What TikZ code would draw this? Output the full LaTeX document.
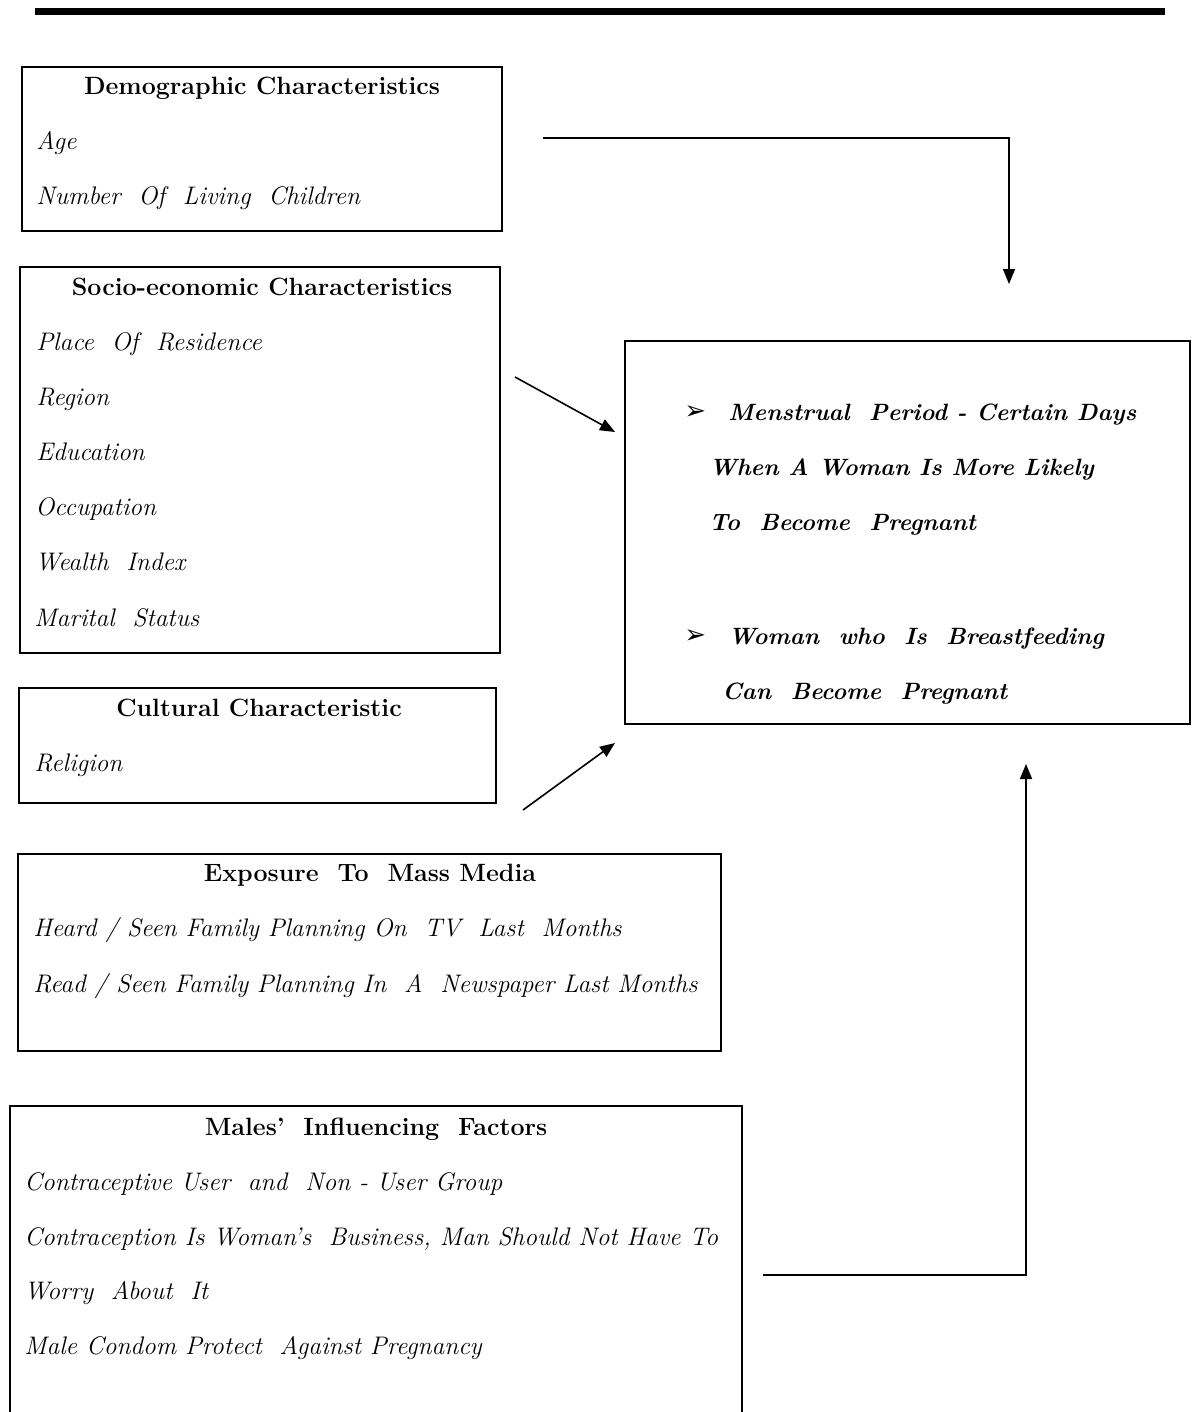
\documentclass[tikz,border=0pt]{standalone}
\usepackage{fontspec}
\usepackage{tikz}
\usetikzlibrary{arrows.meta,positioning,calc}
\newfontfamily\dingfont{DejaVu Sans}
\newcommand{\bulletmark}{{\dingfont\fontsize{13}{15}\selectfont ➢}}

\tikzset{
  box/.style={draw=black, line width=1pt},
  head/.style={font=\fontsize{12.5}{15}\selectfont\bfseries, anchor=base, inner sep=0pt},
  item/.style={font=\fontsize{12.7}{15}\selectfont\itshape, anchor=base west, inner sep=0pt},
  outitem/.style={font=\fontsize{11.8}{15}\selectfont\bfseries\itshape, anchor=base west, inner sep=0pt},
  link/.style={line width=0.8pt, -{Triangle[length=7.5pt,width=6pt]}}
}

\begin{document}
\begin{tikzpicture}[x=0.5pt,y=-0.5pt]
\useasboundingbox (0,0) rectangle (1196,1412);
\clip (0,0) rectangle (1196,1412);
% top rule
\draw[line width=3.5pt] (35,11.5) -- (1165,11.5);

% demographic box
\draw[box] (22,67) rectangle (502,231);
\node[head] (demohead) at (262,95) {Demographic Characteristics};
\node[item] (age) at (36,150) {Age};
\node[item] (children) at (36,205) {Number~ Of~ Living~ Children};

% socio-economic box
\draw[box] (20,267) rectangle (500,653);
\node[head] (sociohead) at (262,295) {Socio-economic Characteristics};
\node[item] (residence) at (36,350) {Place~ Of~ Residence};
\node[item] (region) at (36,405) {Region};
\node[item] (education) at (36,460) {Education};
\node[item] (occupation) at (35,515) {Occupation};
\node[item] (wealth) at (35,570) {Wealth~ Index};
\node[item] (marital) at (34,626) {Marital~ Status};

% cultural box
\draw[box] (19,688) rectangle (496,803);
\node[head] (culthead) at (259,716) {Cultural Characteristic};
\node[item] (religion) at (34,771) {Religion};

% mass media box
\draw[box] (18,854) rectangle (721,1051);
\node[head] (mediahead) at (370,881) {Exposure~ To~ Mass Media};
\node[item] (tv) at (33,936) {Heard / Seen Family Planning On~ TV~ Last~ Months};
\node[item] (paper) at (33,992) {Read / Seen Family Planning In~ A~ Newspaper Last Months};

% males box (runs off the page)
\draw[box] (10,1440) |- (742,1106) -- (742,1440);
\node[head] (malehead) at (376,1135) {Males’~ Influencing~ Factors};
\node[item] (usergroup) at (24,1190) {Contraceptive User~ and~ Non - User Group};
\node[item] (business) at (24,1245) {Contraception Is Woman’s~ Business, Man Should Not Have To};
\node[item] (worry) at (24,1299) {Worry~ About~ It};
\node[item] (condom) at (24,1354) {Male Condom Protect~ Against Pregnancy};

% outcome box
\draw[box] (625,341) rectangle (1190,724);
\node[anchor=base west, inner sep=0pt] (bulletA) at (684,419) {\bulletmark};
\node[outitem] (menstrual) at (728,420) {Menstrual~ Period - Certain Days};
\node[outitem] (likely) at (709,475) {When A Woman Is More Likely};
\node[outitem] (become) at (709,530) {To~ Become~ Pregnant};
\node[anchor=base west, inner sep=0pt] (bulletB) at (684,643) {\bulletmark};
\node[outitem] (breast) at (728,644) {Woman~ who~ Is~ Breastfeeding};
\node[outitem] (canbecome) at (722,699) {Can~ Become~ Pregnant};

% arrow ends
\coordinate (demoout) at (543,138);
\coordinate (demoin) at (1009,284);
\coordinate (sociout) at (515,377);
\coordinate (socioin) at (615,432);
\coordinate (cultout) at (523,810);
\coordinate (cultin) at (615,743);
\coordinate (maleout) at (763,1275);
\coordinate (malein) at (1026,764);

% arrows
\draw[link] (demoout) -| (demoin);
\draw[link] (sociout) -- (socioin);
\draw[link] (cultout) -- (cultin);
\draw[link] (maleout) -| (malein);
\end{tikzpicture}
\end{document}
